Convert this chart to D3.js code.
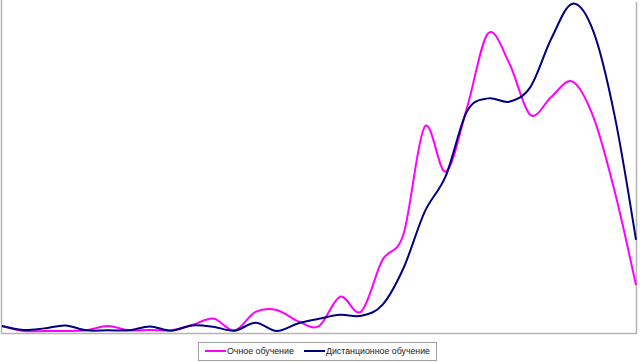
<!DOCTYPE html>
<html>
<head>
<meta charset="utf-8">
<script src="https://cdn.jsdelivr.net/npm/d3@7"></script>
<style>
  body { margin: 0; background: #fff; }
  svg { display: block; font-family: "Liberation Sans", Arial, sans-serif; }
</style>
</head>
<body>
<div id="viz"></div>
<script>
// categories (no labels shown on the chart)
var categories = d3.range(1, 32);

var seriesNames = ["Очное обучение", "Дистанционное обучение"];
var seriesColors = ["#ff00ff", "#000080"];

var fullTime = [2.1, 0.6, 0.6, 0.6, 0.8, 2.1, 0.8, 0.9, 0.8, 2.4,
  4.4, 0.8, 6.4, 7.0, 3.6, 2.1, 11.0, 6.5, 22.1, 30.0,
  62.5, 48.9, 68.2, 90.8, 81.8, 66.1, 71.6, 76.2, 65.2, 42.7, 14.5];

var distance = [2.1, 0.9, 1.4, 2.3, 0.8, 0.8, 0.8, 2.0, 0.7, 2.3,
  1.9, 0.7, 3.1, 0.6, 2.9, 4.3, 5.5, 5.2, 8.5, 19.7,
  36.7, 47.6, 67.1, 71.1, 70.1, 74.5, 89.3, 99.8, 91.1, 65.5, 28.2];

var width = 640;
var height = 362;

var svg = d3.select('#viz')
  .append('svg')
  .attr('width', width)
  .attr('height', height);

var xScale = d3.scalePoint()
  .domain(categories)
  .range([2, 636]);

var yScale = d3.scaleLinear()
  .domain([0, 100])
  .range([333, 3]);

// plot area frame (left, bottom, right)
svg.append('path')
  .attr('d', 'M1.5,0V333.5H636.5V2')
  .attr('fill', 'none')
  .attr('stroke', '#b4b4b4')
  .attr('stroke-width', 1.5);

var line = d3.line()
  .x((d, i) => xScale(categories[i]))
  .y(d => yScale(d))
  .curve(d3.curveCardinal.tension(0));

var series = [fullTime, distance];

svg.append('g')
  .selectAll('path')
  .data(series)
  .join('path')
  .attr('fill', 'none')
  .attr('stroke', (d, i) => seriesColors[i])
  .attr('stroke-width', 2)
  .attr('stroke-linejoin', 'round')
  .attr('d', line);

// legend
var legend = svg.append('g');

legend.append('rect')
  .attr('x', 198.5)
  .attr('y', 342.5)
  .attr('width', 238)
  .attr('height', 18)
  .attr('fill', '#fff')
  .attr('stroke', '#a0a0a0');

var legendX = [205, 304];

var item = legend.selectAll('g')
  .data(seriesNames)
  .join('g')
  .attr('transform', (d, i) => `translate(${legendX[i]},351)`);

item.append('line')
  .attr('x1', 0)
  .attr('x2', 21)
  .attr('stroke', (d, i) => seriesColors[i])
  .attr('stroke-width', 2);

item.append('text')
  .attr('x', 22)
  .attr('y', 3.2)
  .attr('font-size', 8.8)
  .attr('fill', '#222')
  .text(d => d);
</script>
</body>
</html>
